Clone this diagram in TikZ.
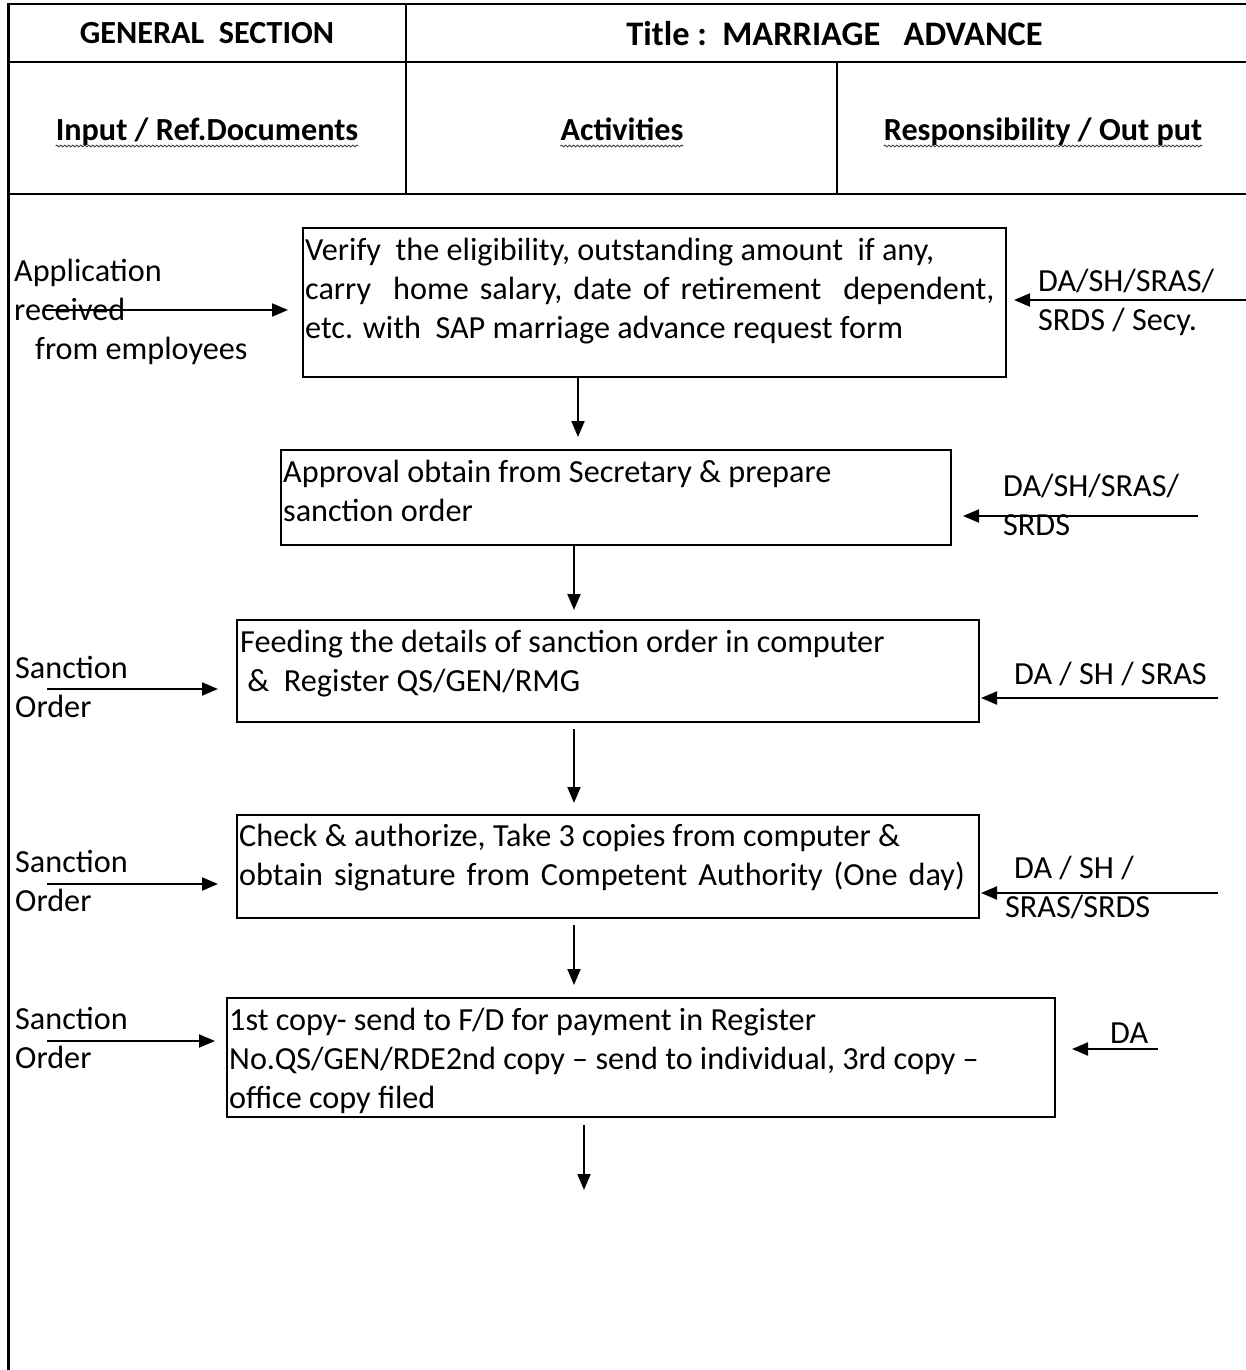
\documentclass[tikz,border=0pt]{standalone}
\usepackage{fontspec}
\setmainfont{Carlito}
\usetikzlibrary{arrows.meta,decorations.pathmorphing}
\begin{document}
\begin{tikzpicture}[x=1pt,y=-1pt,
  framerule/.style={line width=2.6pt},
  box/.style={draw, line width=1.3pt, inner sep=0pt, outer sep=0pt, anchor=north west},
  % multi-line nodes: the base anchor sits on the last line
  txt/.style={font=\fontsize{32.2}{39}\selectfont, align=left, inner sep=0pt, anchor=base west},
  head/.style={font=\fontsize{32.2}{39}\selectfont\bfseries, inner sep=0pt, anchor=base},
  arr/.style={line width=2pt, -{Triangle[length=16pt,width=13pt]}},
  squiggle/.style={decorate, decoration={snake, amplitude=0.9pt, segment length=4pt}, line width=0.9pt, black!75}
]
\useasboundingbox (0,0) rectangle (1246,1370);

% table frame
\draw[framerule] (8.5,1370) -- (8.5,4) -- (1246,4);
\draw[framerule] (8.5,62) -- (1246,62);
\draw[framerule] (8.5,194) -- (1246,194);
\draw[framerule] (406,4) -- (406,194);
\draw[framerule] (837,62) -- (837,194);

% header texts
\node[head] (hsec) at (207,44) {GENERAL\ \ SECTION};
\node[head, font=\fontsize{34.4}{40}\selectfont\bfseries] (htitle) at (834.5,46) {Title :\ \ MARRIAGE\ \ \ ADVANCE};
\node[head] (hin) at (207,140) {Input / Ref.Documents};
\node[head] (hact) at (622,140) {Activities};
\node[head] (hout) at (1043,140) {Responsibility / Out put};
\foreach \h in {hin,hact,hout}
  \draw[squiggle] ([yshift=-6pt]\h.base west) -- ([yshift=-6pt]\h.base east);

% activity boxes
\node[box, minimum width=703, minimum height=149] (b1) at (303,228) {};
\node[box, minimum width=670, minimum height=95]  (b2) at (281,450) {};
\node[box, minimum width=742, minimum height=102] (b3) at (237,620) {};
\node[box, minimum width=742, minimum height=103] (b4) at (237,815) {};
\node[box, minimum width=828, minimum height=119] (b5) at (227,998) {};

\node[txt] (t1) at (305,338) {Verify\ \ the eligibility, outstanding amount\ \ if any,\\{\spaceskip=11pt carry\ \ home salary, date of retirement\ \ dependent,}\\etc. with\ \ SAP marriage advance request form};
\node[txt] (t2) at (283,521) {Approval obtain from Secretary \& prepare\\sanction order};
\node[txt] (t3) at (240,691) {Feeding the details of sanction order in computer\\\ \&\ \ Register QS/GEN/RMG};
\node[txt] (t4) at (239,885) {Check \& authorize, Take 3 copies from computer \&\\{\spaceskip=11pt obtain signature from Competent Authority (One day)}};
\node[txt] (t5) at (229,1108) {1st copy- send to F/D for payment in Register\\No.QS/GEN/RDE2nd copy -- send to individual, 3rd copy --\\office copy filed};

% inputs
\node[txt] (in1) at (14,359) {Application\\received\\\hspace{21pt}from employees};
\node[txt] (in3) at (15,717) {Sanction\\Order};
\node[txt] (in4) at (15,911) {Sanction\\Order};
\node[txt] (in5) at (15,1068) {Sanction\\Order};

\coordinate (s1) at (45,310);
\coordinate (s3) at (47,689);
\coordinate (s4) at (47,884);
\coordinate (s5) at (47,1041);
\draw[arr, shorten >=15pt] (s1) -- (b1.west |- s1);
\draw[arr, shorten >=19pt] (s3) -- (b3.west |- s3);
\draw[arr, shorten >=19pt] (s4) -- (b4.west |- s4);
\draw[arr, shorten >=12pt] (s5) -- (b5.west |- s5);

% responsibilities
\node[txt] (r1) at (1038,330) {DA/SH/SRAS/\\SRDS / Secy.};
\node[txt] (r2) at (1003,535) {DA/SH/SRAS/\\SRDS};
\node[txt] (r3) at (1014,684) {DA / SH / SRAS};
\node[txt] (r4) at (1005,917) {\hspace{9pt}DA / SH /\\SRAS/SRDS};
\node[txt] (r5) at (1110,1043) {DA};

\coordinate (e1) at (1246,300);
\coordinate (e2) at (1198,516);
\coordinate (e3) at (1218,698);
\coordinate (e4) at (1218,893);
\coordinate (e5) at (1158,1049);
\draw[arr, shorten >=8pt]  (e1) -- (b1.east |- e1);
\draw[arr, shorten >=12pt] (e2) -- (b2.east |- e2);
\draw[arr, shorten >=2pt]  (e3) -- (b3.east |- e3);
\draw[arr, shorten >=2pt]  (e4) -- (b4.east |- e4);
\draw[arr, shorten >=17pt] (e5) -- (b5.east |- e5);

% flow between activities
\coordinate (d1) at (578,437);
\coordinate (d2) at (574,610);
\coordinate (d3) at (574,803);
\coordinate (d4) at (574,985);
\coordinate (d5) at (584,1190);
\draw[arr] (b1.south -| d1) -- (d1);
\draw[arr] (b2.south -| d2) -- (d2);
\draw[arr] ([yshift=-7pt]b3.south -| d3) -- (d3);
\draw[arr] ([yshift=-7pt]b4.south -| d4) -- (d4);
\draw[arr] ([yshift=-8pt]b5.south -| d5) -- (d5);
\end{tikzpicture}
\end{document}
